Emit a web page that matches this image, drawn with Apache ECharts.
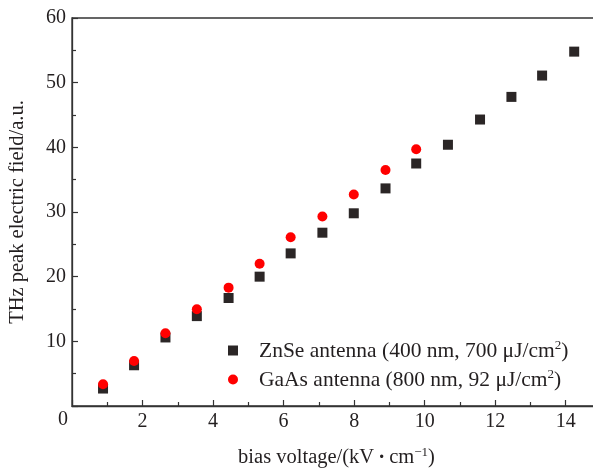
<!DOCTYPE html>
<html>
<head>
<meta charset="utf-8">
<script src="https://cdn.jsdelivr.net/npm/echarts@6/dist/echarts.min.js"></script>
<style>html,body{margin:0;padding:0;background:#fff}#c{width:593px;height:468px}</style>
</head>
<body>
<div id="c"></div>
<script>
var biasVoltage = [0.88, 1.76, 2.65, 3.54, 4.44, 5.32, 6.2, 7.1, 7.99, 8.89, 9.76, 10.66, 11.57, 12.46, 13.33, 14.24];
var znseField = [2.7, 6.3, 10.6, 13.9, 16.7, 20.0, 23.6, 26.8, 29.8, 33.65, 37.5, 40.4, 44.3, 47.8, 51.1, 54.8];
var gaasVoltage = [0.88, 1.76, 2.65, 3.54, 4.44, 5.32, 6.2, 7.1, 7.99, 8.89, 9.76];
var gaasField = [3.36, 6.97, 11.25, 14.97, 18.3, 22.0, 26.1, 29.3, 32.7, 36.5, 39.7];
var seriesNames = ['ZnSe antenna (400 nm, 700 μJ/cm2)', 'GaAs antenna (800 nm, 92 μJ/cm2)'];
var legendRich = {
  'ZnSe antenna (400 nm, 700 μJ/cm2)': '{t|ZnSe antenna (400 nm, 700 μJ/cm}{s|2}{t|)}',
  'GaAs antenna (800 nm, 92 μJ/cm2)': '{t|GaAs antenna (800 nm, 92 μJ/cm}{s|2}{t|)}'
};

function pairs(xs, ys) { return xs.map(function (x, i) { return [x, ys[i]]; }); }

var FONT = '"Liberation Serif", "Times New Roman", serif';
var TXT = '#231f20';
var AX = '#333';

var chart = echarts.init(document.getElementById('c'), null, {renderer: 'canvas'});
chart.setOption({
  animation: false,
  backgroundColor: '#fff',
  grid: {left: 72, right: -8, top: 18, bottom: 62, outerBoundsMode: 'none', containLabel: false,
    show: true, borderColor: AX, borderWidth: 1.3, backgroundColor: 'transparent'},
  xAxis: {
    type: 'value', min: 0, max: 15, interval: 2,
    name: '{t|bias voltage/(kV\u2009}{d|·}{t|\u2009cm}{s|−1}{t|)}',
    nameLocation: 'middle', nameGap: 40,
    nameTextStyle: {
      rich: {
        t: {fontFamily: FONT, fontSize: 20.5, color: TXT, lineHeight: 22, verticalAlign: 'bottom'},
        d: {fontFamily: FONT, fontSize: 20.5, color: TXT, lineHeight: 22, verticalAlign: 'bottom', fontWeight: 'bold'},
        s: {fontFamily: FONT, fontSize: 13, color: TXT, lineHeight: 13, verticalAlign: 'top'}
      }
    },
    axisLine: {lineStyle: {color: AX, width: 1.3}},
    axisTick: {inside: true, length: 6, lineStyle: {color: AX, width: 1.2}},
    minorTick: {show: true, splitNumber: 2, length: 4, lineStyle: {color: AX, width: 1.2}},
    splitLine: {show: false},
    axisLabel: {
      fontFamily: FONT, fontSize: 20, color: TXT, margin: 6,
      showMaxLabel: false,
      formatter: function (v) { return v === 0 ? '' : String(v); }
    }
  },
  yAxis: {
    type: 'value', min: 0, max: 60, interval: 10,
    name: 'THz peak electric field/a.u.',
    nameLocation: 'middle', nameGap: 44,
    nameTextStyle: {fontFamily: FONT, fontSize: 20.5, color: TXT},
    axisLine: {lineStyle: {color: AX, width: 1.3}},
    axisTick: {inside: true, length: 6, lineStyle: {color: AX, width: 1.2}},
    minorTick: {show: true, splitNumber: 2, length: 4, lineStyle: {color: AX, width: 1.2}},
    splitLine: {show: false},
    axisLabel: {
      fontFamily: FONT, fontSize: 20, color: TXT, margin: 6,
      formatter: function (v) { return v === 0 ? '' : String(v); }
    }
  },
  legend: {
    orient: 'vertical', left: 223, top: 334,
    itemWidth: 10, itemHeight: 10, itemGap: 6,
    data: [{name: seriesNames[0], icon: 'rect'}, {name: seriesNames[1], icon: 'circle'}],
    formatter: function (n) { return legendRich[n]; },
    textStyle: {
      padding: [0, 0, 0, 16],
      rich: {
        t: {fontFamily: FONT, fontSize: 21.5, color: TXT, lineHeight: 23, verticalAlign: 'bottom'},
        s: {fontFamily: FONT, fontSize: 13, color: TXT, lineHeight: 13, verticalAlign: 'top'}
      }
    }
  },
  graphic: [{
    type: 'text', left: 58, top: 410,
    style: {text: '0', font: '20px ' + FONT, fill: TXT}
  }],
  series: [
    {name: seriesNames[0], type: 'scatter', symbol: 'rect', symbolSize: 10,
      itemStyle: {color: '#2b2626', opacity: 1}, data: pairs(biasVoltage, znseField), z: 2},
    {name: seriesNames[1], type: 'scatter', symbol: 'circle', symbolSize: 10,
      itemStyle: {color: '#ff0000', opacity: 1}, data: pairs(gaasVoltage, gaasField), z: 3}
  ]
});
</script>
</body>
</html>
